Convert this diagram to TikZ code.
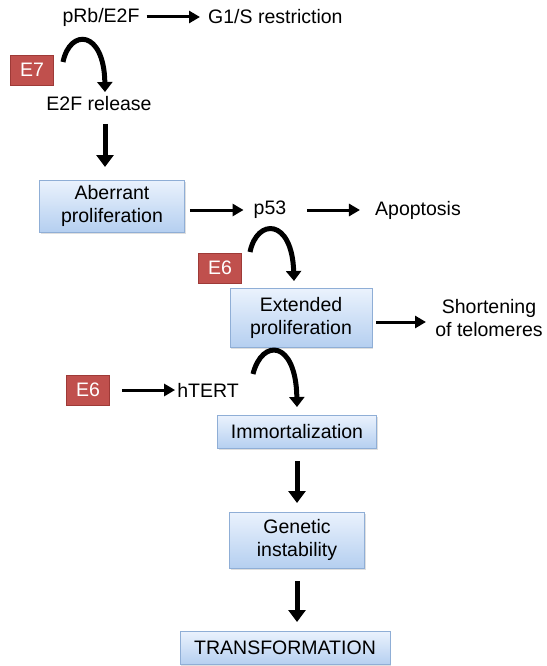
\documentclass[tikz,border=0pt]{standalone}
\usepackage{fontspec}
\setmainfont{Liberation Sans}
\usetikzlibrary{arrows.meta,shadows}
\definecolor{boxtop}{HTML}{EAF2FD}
\definecolor{boxbot}{HTML}{B5CFF0}
\definecolor{boxline}{HTML}{8FAED6}
\definecolor{redfill}{HTML}{C0504D}
\definecolor{redline}{HTML}{9E3A37}
\tikzset{
  x=1pt, y=-1pt,
  fnt/.style={font=\fontsize{19.5}{23}\selectfont},
  lbl/.style={fnt, align=center, inner sep=1pt},
  bluebox/.style={draw=boxline, line width=0.8pt, top color=boxtop, bottom color=boxbot,
    fnt, align=center, inner sep=0pt,
    drop shadow={opacity=0.25, shadow xshift=1pt, shadow yshift=-1.5pt}},
  redbox/.style={draw=redline, line width=0.6pt, fill=redfill, text=white,
    fnt, minimum width=43pt, minimum height=30pt, inner sep=0pt},
  harrow/.style={line width=3pt, -{Triangle[length=11pt,width=12pt]}},
  varrow/.style={line width=5pt, -{Triangle[length=12pt,width=17pt]}},
  carrow/.style={line width=5pt, -{Triangle[length=10pt,width=15pt]}},
}
\begin{document}
\begin{tikzpicture}
\useasboundingbox (0,0) rectangle (546,666);
% top part
\node[lbl] (prb) at (101,17) {pRb/E2F};
\node[lbl, anchor=west] (g1s) at (207,17) {G1/S restriction};
\draw[harrow, shorten <=6pt, shorten >=7pt] (prb.east) -- (g1s.west);
\node[redbox] (e7) at (32,70) {E7};
\node[lbl] (e2f) at (99,104) {E2F release};
\coordinate (c1s) at (63,62);
\coordinate (c1e) at (105,92);
\draw[carrow] (c1s) .. controls (70,28) and (104,30) .. (c1e);
% aberrant
\node[bluebox, minimum width=145pt, minimum height=52pt] (ab) at (112,206) {Aberrant\\proliferation};
\coordinate (d1) at (105,124);
\coordinate (d2) at (105,167);
\draw[varrow] (d1) -- (d2);
\node[lbl] (p53) at (270,210) {p53};
\node[lbl] (apo) at (418,210) {Apoptosis};
\draw[harrow, shorten <=5pt, shorten >=9pt] (ab.east |- p53.west) -- (p53.west);
\draw[harrow, shorten <=20pt, shorten >=14pt] (p53.east) -- (apo.west);
\node[redbox] (e6a) at (220,268) {E6};
\coordinate (c2s) at (250,252);
\coordinate (c2e) at (294,281);
\draw[carrow] (c2s) .. controls (257,218) and (292,218) .. (c2e);
% extended
\node[bluebox, minimum width=142pt, minimum height=59pt] (ext) at (301,318) {Extended\\proliferation};
\node[lbl] (sho) at (489,318) {Shortening\\of telomeres};
\coordinate (h3) at (376,322);
\coordinate (h3e) at (426,322);
\draw[harrow] (h3) -- (h3e);
% hTERT
\node[redbox] (e6b) at (88,390) {E6};
\node[lbl] (htert) at (208,390) {hTERT};
\draw[harrow, shorten <=12pt, shorten >=1pt] (e6b.east) -- (htert.west);
\coordinate (c3s) at (253,374);
\coordinate (c3e) at (297,407);
\draw[carrow] (c3s) .. controls (262,338) and (296,340) .. (c3e);
% immortalization
\node[bluebox, minimum width=159pt, minimum height=33pt] (imm) at (297,432) {Immortalization};
\node[bluebox, minimum width=135pt, minimum height=56pt] (gen) at (297,540) {Genetic\\instability};
\node[bluebox, minimum width=210pt, minimum height=33pt] (tra) at (285,648) {TRANSFORMATION};
\coordinate (v1) at (297,461);
\coordinate (v1e) at (297,503);
\coordinate (v2) at (297,581);
\coordinate (v2e) at (297,622);
\draw[varrow] (v1) -- (v1e);
\draw[varrow] (v2) -- (v2e);
\end{tikzpicture}
\end{document}
